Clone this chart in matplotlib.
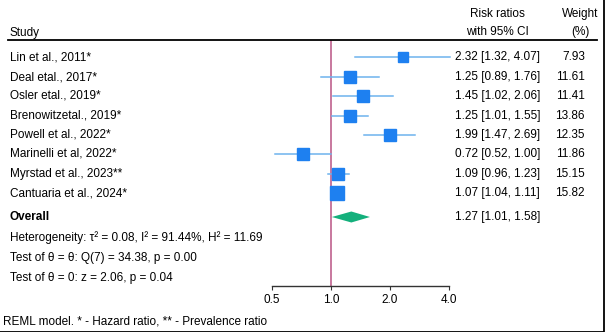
import numpy as np
import matplotlib.pyplot as plt
from matplotlib.ticker import FixedLocator, FixedFormatter, NullLocator

plt.rcParams['font.family'] = ['Liberation Sans', 'DejaVu Sans']

studies = ["Lin et al., 2011*", "Deal etal., 2017*", "Osler etal., 2019*",
           "Brenowitzetal., 2019*", "Powell et al., 2022*", "Marinelli et al, 2022*",
           "Myrstad et al., 2023**", "Cantuaria et al., 2024*"]
rr = [2.32, 1.25, 1.45, 1.25, 1.99, 0.72, 1.09, 1.07]
lo = [1.32, 0.89, 1.02, 1.01, 1.47, 0.52, 0.96, 1.04]
hi = [4.07, 1.76, 2.06, 1.55, 2.69, 1.00, 1.23, 1.11]
weight = [7.93, 11.61, 11.41, 13.86, 12.35, 11.86, 15.15, 15.82]

overall = (1.27, 1.01, 1.58)
stats_lines = ["Heterogeneity: τ² = 0.08, I² = 91.44%, H² = 11.69",
               "Test of θ = θ: Q(7) = 34.38, p = 0.00",
               "Test of θ = 0: z = 2.06, p = 0.04"]
note = "REML model. * - Hazard ratio, ** - Prevalence ratio"
ticks = [0.5, 1.0, 2.0, 4.0]

W, H = 605, 332
FS = 8.5
fig = plt.figure(figsize=(W / 100, H / 100), dpi=100)
fig.patch.set_facecolor('white')

# row positions in pixels from the top
row_y = [57, 77, 96, 116, 135, 154, 174, 193]
overall_y = 217
stats_y = [238, 258, 278]
top_y, axis_y = 40, 286
x0, x1 = 272, 449

ax = fig.add_axes([x0 / W, 1 - axis_y / H, (x1 - x0) / W, (axis_y - top_y) / H])
ax.set_xscale('log', base=2)
ax.set_xlim(ticks[0], ticks[-1])
ax.set_ylim(axis_y, top_y)
ax.patch.set_alpha(0)
for s in ['top', 'right', 'left']:
    ax.spines[s].set_visible(False)
ax.spines['bottom'].set_linewidth(1.0)
ax.spines['bottom'].set_color('#333333')
ax.yaxis.set_major_locator(NullLocator())
ax.xaxis.set_major_locator(FixedLocator(ticks))
ax.xaxis.set_major_formatter(FixedFormatter([f"{t:.1f}" for t in ticks]))
ax.xaxis.set_minor_locator(NullLocator())
ax.tick_params(axis='x', length=3, width=0.8, labelsize=FS, pad=3, color='#333333')

ax.axvline(1.0, color='#c8789e', lw=1.4, zorder=1)

for y, r, l, h, w in zip(row_y, rr, lo, hi, weight):
    ax.plot([l, h], [y, y], color='#6eb3ee', lw=1.1, zorder=2, clip_on=False)
    side = 6.8 + 0.4 * w
    ax.plot(r, y, marker='s', ms=side * 0.72, color='#1e80f0', mec='#1e80f0',
            zorder=3, clip_on=False)

est, olo, ohi = overall
ax.fill([olo, est, ohi, est], [overall_y, overall_y - 5.5, overall_y, overall_y + 5.5],
        color='#14b07c', lw=0, zorder=3)

def put(x, y, s, **kw):
    fig.text(x / W, 1 - y / H, s, fontsize=FS, va='center', **kw)

put(10, 33, "Study")
put(497, 14, "Risk ratios", ha='center')
put(497, 32, "with 95% CI", ha='center')
put(580, 14, "Weight", ha='center')
put(580, 32, "(%)", ha='center')

fig.add_artist(plt.Line2D([8 / W, 597 / W], [1 - 40 / H] * 2, color='black', lw=1.3))

for y, name, r, l, h, w in zip(row_y, studies, rr, lo, hi, weight):
    put(10, y, name)
    put(455, y, f"{r:.2f} [{l:.2f}, {h:.2f}]")
    put(585, y, f"{w:.2f}", ha='right')

put(10, overall_y, "Overall", fontweight='bold')
put(455, overall_y, f"{est:.2f} [{olo:.2f}, {ohi:.2f}]")
for y, s in zip(stats_y, stats_lines):
    put(10, y, s)
put(3, 321, note)

# frame on right and bottom edges
fig.add_artist(plt.Line2D([0, 603.5 / W, 603.5 / W], [0.5 / H, 0.5 / H, 1], color='black', lw=1.3))

fig.savefig('out.png', dpi=100)
